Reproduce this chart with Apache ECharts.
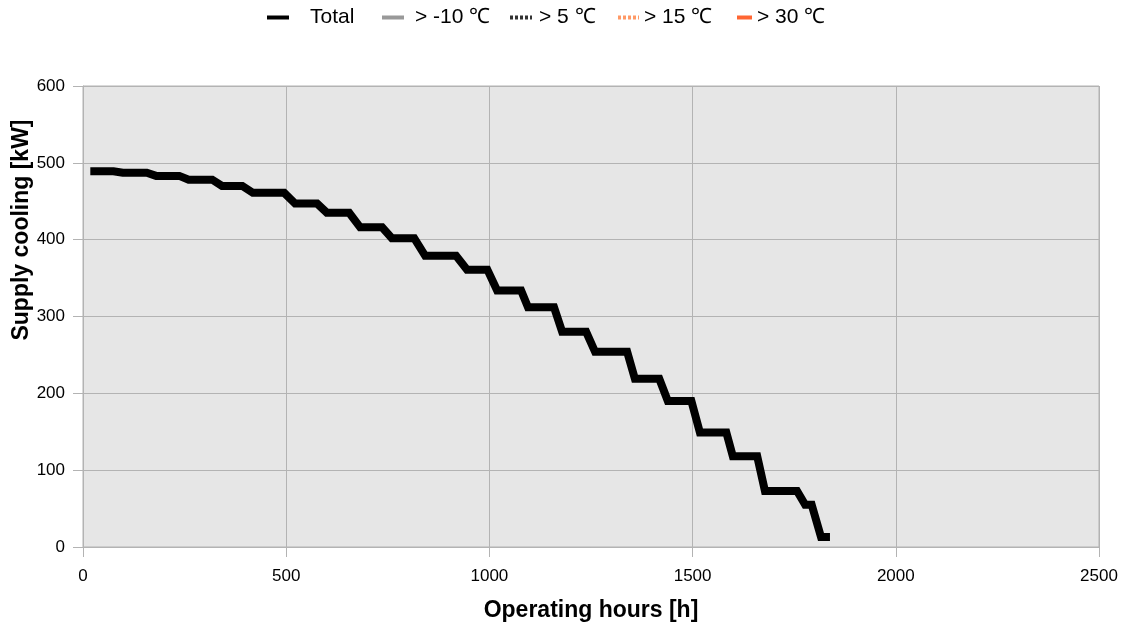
<!DOCTYPE html>
<html>
<head>
<meta charset="utf-8">
<script src="https://cdn.jsdelivr.net/npm/echarts@6/dist/echarts.min.js"></script>
<style>
html,body{margin:0;padding:0;background:#fff;}
#chart{width:1126px;height:630px;}
</style>
</head>
<body>
<div id="chart"></div>
<script>
// Data (hours, supply cooling kW)
var hours = [18, 75, 98, 157, 180, 237, 260, 318, 342, 392, 418, 495, 522, 576, 600, 655, 682, 736, 760, 815, 842, 918, 945, 995, 1019, 1078, 1095, 1159, 1179, 1238, 1260, 1339, 1358, 1418, 1439, 1497, 1518, 1583, 1599, 1659, 1678, 1757, 1777, 1793, 1816, 1838];
var coolingKW = [489, 489, 487, 487, 483, 483, 478, 478, 470, 470, 461, 461, 447, 447, 435, 435, 416, 416, 402, 402, 379, 379, 361, 361, 334, 334, 312, 312, 280, 280, 254, 254, 219, 219, 190, 190, 149, 149, 118, 118, 73, 73, 55, 55, 13, 13];
var seriesNames = ['Total', '> -10 ℃', '> 5 ℃', '> 15 ℃', '> 30 ℃'];
var xTicks = [0, 500, 1000, 1500, 2000, 2500];
var yTicks = [0, 100, 200, 300, 400, 500, 600];

var totalData = hours.map(function (h, i) { return [h, coolingKW[i]]; });

var FONT = 'Liberation Sans, Arial, sans-serif';
var seriesColors = ['#000000', '#999999', '#333333', '#ff9966', '#ff6633'];
var seriesTypes = ['solid', 'solid', [3, 2], [3, 2], 'solid'];

var legendLeft = [265, 380, 508, 616, 735];
var legendIconW = [22, 22, 22, 21, 15];
var legendPad = [16, 6, 2, 0, 0];

var legends = seriesNames.map(function (n, i) {
  return {
    left: legendLeft[i],
    top: 7,
    padding: 0,
    itemWidth: legendIconW[i],
    itemHeight: 14,
    selectedMode: false,
    data: [{
      name: n,
      itemStyle: { opacity: 0 },
      lineStyle: { width: 4, color: seriesColors[i], type: seriesTypes[i] }
    }],
    textStyle: {
      fontFamily: FONT,
      fontSize: 21,
      color: '#000',
      padding: [0, 0, 0, legendPad[i]]
    }
  };
});

var series = seriesNames.map(function (n, i) {
  return {
    name: n,
    type: 'line',
    symbol: 'none',
    data: i === 0 ? totalData : [],
    lineStyle: {
      width: i === 0 ? 8 : 4,
      color: seriesColors[i],
      type: seriesTypes[i],
      cap: 'butt',
      join: 'miter'
    },
    itemStyle: { color: seriesColors[i] },
    animation: false
  };
});

var plain = function (v) { return String(v); };

var chart = echarts.init(document.getElementById('chart'), null, { renderer: 'canvas' });
chart.setOption({
  animation: false,
  backgroundColor: '#ffffff',
  legend: legends,
  grid: {
    left: 83, right: 27, top: 86, bottom: 83,
    containLabel: false,
    outerBoundsMode: 'none',
    show: true,
    backgroundColor: '#e6e6e6',
    borderColor: '#b3b3b3',
    borderWidth: 1
  },
  xAxis: {
    type: 'value',
    min: xTicks[0],
    max: xTicks[xTicks.length - 1],
    interval: 500,
    name: 'Operating hours [h]',
    nameLocation: 'middle',
    nameGap: 52,
    nameMoveOverlap: false,
    nameTextStyle: { fontFamily: FONT, fontSize: 23, fontWeight: 'bold', color: '#000' },
    axisLine: { show: true, lineStyle: { color: '#b3b3b3', width: 1 } },
    axisTick: { show: true, inside: false, length: 10, lineStyle: { color: '#b3b3b3' } },
    axisLabel: { fontFamily: FONT, fontSize: 17, color: '#000', margin: 21, formatter: plain },
    splitLine: { show: true, lineStyle: { color: '#b3b3b3', width: 1 } }
  },
  yAxis: {
    type: 'value',
    min: yTicks[0],
    max: yTicks[yTicks.length - 1],
    interval: 100,
    name: 'Supply cooling [kW]',
    nameLocation: 'middle',
    nameRotate: 90,
    nameGap: 50,
    nameMoveOverlap: false,
    nameTextStyle: { fontFamily: FONT, fontSize: 23, fontWeight: 'bold', color: '#000', padding: [0, 0, 0, 173] },
    axisLine: { show: true, lineStyle: { color: '#b3b3b3', width: 1 } },
    axisTick: { show: true, inside: false, length: 10, lineStyle: { color: '#b3b3b3' } },
    axisLabel: { fontFamily: FONT, fontSize: 17, color: '#000', margin: 18, formatter: plain },
    splitLine: { show: true, lineStyle: { color: '#b3b3b3', width: 1 } }
  },
  series: series
});
</script>
</body>
</html>
